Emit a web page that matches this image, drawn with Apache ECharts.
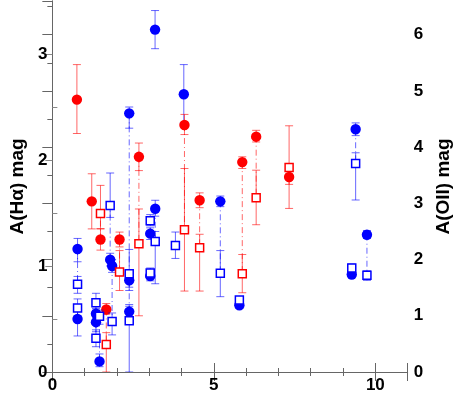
<!DOCTYPE html>
<html lang="en">
<head>
    <meta charset="UTF-8">
    <title>A(Ha) vs A(OII)</title>
    <style>
        html, body { margin: 0; padding: 0; background: #fff; }
    </style>
</head>
<body>
<div id="main" style="width: 461px;height:395px;"></div>

<script src="https://cdn.jsdelivr.net/npm/echarts@6/dist/echarts.min.js"></script>
<script>
    // one entry per object: x, colour (0 red, 1 blue), A(Ha) with errors, A(OII) with errors
    var objX   = [0.76, 0.78, 0.78, 1.22, 1.49, 1.67, 1.35, 1.35, 1.46, 1.79, 1.85, 2.08, 2.38, 2.38, 2.38, 2.68,
                  3.03, 3.03, 3.185, 3.18, 3.81, 4.07, 4.09, 4.56, 5.20, 5.79, 5.88, 6.31, 7.33, 9.27, 9.39, 9.74];
    var objCol = [0, 1, 1, 0, 0, 0, 1, 1, 1, 1, 1, 0, 1, 1, 1, 0,
                  1, 1, 1, 1, 1, 1, 0, 0, 1, 1, 0, 0, 0, 1, 1, 1];
    var haVal  = [2.57, 1.16, 0.50, 1.61, 1.25, 0.59, 0.55, 0.47, 0.10, 1.06, 1.00, 1.25, 2.44, 0.865, 0.57, 2.03,
                  1.305, 0.906, 1.54, 3.23, null, 2.62, 2.33, 1.62, 1.61, 0.63, 1.98, 2.22, 1.84, 0.92, 2.29, 1.295];
    var haLo   = [2.25, 1.04, 0.34, 1.35, 1.15, 0.545, 0.50, 0.38, 0.05, 1.00, 0.94, 1.18, 2.30, 0.80, 0.50, 1.90,
                  1.25, 0.86, 1.47, 3.05, null, 2.35, 2.24, 1.55, 1.56, 0.60, 1.92, 2.17, 1.77, 0.89, 2.23, 1.26];
    var haHi   = [2.90, 1.26, 0.59, 1.87, 1.35, 0.646, 0.60, 0.52, 0.17, 1.12, 1.06, 1.32, 2.50, 0.92, 0.62, 2.16,
                  1.36, 0.95, 1.62, 3.41, null, 2.90, 2.43, 1.69, 1.66, 0.66, 2.03, 2.28, 1.90, 0.95, 2.35, 1.335];
    var oiiVal = [null, 1.56, 1.14, null, 2.82, 0.49, 1.23, 0.60, 0.99, 2.96, 0.90, 1.78, 1.75, 0.91, null, 2.28,
                  2.69, 1.76, 2.32, null, 2.25, null, 2.53, 2.21, 1.755, 1.28, 1.75, 3.10, 3.64, 1.85, 3.71, 1.72];
    var oiiLo  = [null, 1.40, 1.00, null, 2.55, 0.00, 1.10, 0.45, 0.85, 2.75, 0.66, 1.45, 1.45, 0.00, null, 1.00,
                  2.60, 1.70, 1.57, null, 2.02, null, 1.44, 1.44, 1.34, 1.22, 1.41, 2.62, 2.91, 1.78, 3.06, 1.63];
    var oiiHi  = [null, 1.70, 1.30, null, 3.32, 0.70, 1.40, 0.75, 1.10, 3.54, 1.05, 2.16, 2.18, 1.20, null, 2.90,
                  2.80, 1.85, 2.50, null, 2.49, null, 3.62, 2.45, 2.16, 1.34, 2.09, 3.59, 4.38, 1.92, 3.90, 1.80];

    var haMax = 3.5;
    var oiiMax = 6.6;

    var solid = ['#ff0000', '#0000ff'];
    var faint = ['rgba(255,0,0,0.6)', 'rgba(0,0,255,0.6)'];
    var font = '"Liberation Sans", Arial, sans-serif';

    var haData = [], oiiData = [], linkData = [];
    for (var i = 0; i < objX.length; i++) {
        if (haVal[i] !== null) haData.push([objX[i], haVal[i], haLo[i], haHi[i], objCol[i]]);
        if (oiiVal[i] !== null) oiiData.push([objX[i], oiiVal[i], oiiLo[i], oiiHi[i], objCol[i]]);
        if (haVal[i] !== null && oiiVal[i] !== null) {
            linkData.push([objX[i], haVal[i], oiiVal[i] * haMax / oiiMax, objCol[i]]);
        }
    }

    function errorBar(api, c) {
        var x = api.value(0);
        var pl = api.coord([x, api.value(2)]);
        var ph = api.coord([x, api.value(3)]);
        var st = { stroke: faint[c], lineWidth: 1 };
        return [
            { type: 'line', shape: { x1: pl[0], y1: pl[1], x2: ph[0], y2: ph[1] }, style: st },
            { type: 'line', shape: { x1: pl[0] - 4, y1: pl[1], x2: pl[0] + 4, y2: pl[1] }, style: st },
            { type: 'line', shape: { x1: ph[0] - 4, y1: ph[1], x2: ph[0] + 4, y2: ph[1] }, style: st }
        ];
    }

    function renderCircle(params, api) {
        var c = api.value(4);
        var p = api.coord([api.value(0), api.value(1)]);
        var kids = errorBar(api, c);
        kids.push({ type: 'circle', shape: { cx: p[0], cy: p[1], r: 5.2 }, style: { fill: solid[c] } });
        return { type: 'group', children: kids };
    }

    function renderSquare(params, api) {
        var c = api.value(4);
        var p = api.coord([api.value(0), api.value(1)]);
        var kids = errorBar(api, c);
        kids.push({ type: 'rect', shape: { x: p[0] - 4, y: p[1] - 4, width: 8, height: 8 },
            style: { fill: '#fff', stroke: solid[c], lineWidth: 1.5 } });
        return { type: 'group', children: kids };
    }

    function renderLink(params, api) {
        var c = api.value(3);
        var a = api.coord([api.value(0), api.value(1)]);
        var b = api.coord([api.value(0), api.value(2)]);
        return { type: 'line', shape: { x1: a[0], y1: a[1], x2: b[0], y2: b[1] },
            style: { stroke: faint[c], lineWidth: 1, lineDash: [6, 3, 1, 3] } };
    }

    var axisLine = { show: true, lineStyle: { color: '#666', width: 1 } };
    var label = { color: '#000', fontSize: 17, fontWeight: 'bold', fontFamily: font };
    var nameStyle = { color: '#000', fontSize: 19, fontWeight: 'bold', fontFamily: font };

    var chart = echarts.init(document.getElementById('main'));
    chart.setOption({
        animation: false,
        backgroundColor: '#fff',
        grid: { left: 41, right: 46, top: 1, bottom: 23 },
        xAxis: [
            {
                type: 'value', min: 0, max: 11, interval: 5, position: 'bottom',
                axisLine: axisLine,
                axisTick: { inside: true, length: 9, lineStyle: { color: '#666' } },
                minorTick: { show: true, splitNumber: 5, length: 4, lineStyle: { color: '#666' } },
                axisLabel: Object.assign({ margin: 5, showMaxLabel: false }, label),
                splitLine: { show: false }
            },
            {
                type: 'value', min: 0, max: 11, interval: 5, position: 'top',
                axisLine: axisLine,
                axisTick: { inside: true, length: 9, lineStyle: { color: '#666' } },
                minorTick: { show: true, splitNumber: 5, length: 4, lineStyle: { color: '#666' } },
                axisLabel: { show: false },
                splitLine: { show: false }
            }
        ],
        yAxis: [
            {
                type: 'value', min: 0, max: haMax, interval: 1, position: 'left',
                name: 'A(H\u03b1) mag', nameLocation: 'middle', nameRotate: 90, nameGap: 18,
                nameTextStyle: nameStyle,
                axisLine: axisLine,
                axisTick: { inside: false, length: 7, lineStyle: { color: '#888' } },
                minorTick: { show: false },
                axisLabel: Object.assign({ margin: 5, showMaxLabel: false }, label),
                splitLine: { show: false }
            },
            {
                type: 'value', min: 0, max: oiiMax, interval: 1, position: 'right',
                name: 'A(OII) mag', nameLocation: 'middle', nameRotate: 90, nameGap: 23,
                nameTextStyle: nameStyle,
                axisLine: axisLine,
                axisTick: { inside: true, length: 10, lineStyle: { color: '#666' } },
                minorTick: { show: true, splitNumber: 2, length: 5, lineStyle: { color: '#666' } },
                axisLabel: Object.assign({ margin: 6, showMaxLabel: false }, label),
                splitLine: { show: false }
            },
            {
                // second left axis only for the inward minor ticks
                type: 'value', min: 0, max: haMax, interval: 1, position: 'left',
                axisLine: { show: false },
                axisTick: { show: true, inside: true, length: 0 },
                minorTick: { show: true, splitNumber: 2, length: 5, lineStyle: { color: '#888' } },
                axisLabel: { show: false },
                splitLine: { show: false }
            }
        ],
        series: [
            { name: 'link', type: 'custom', xAxisIndex: 0, yAxisIndex: 0, z: 1,
              renderItem: renderLink, data: linkData, clip: true },
            { name: 'A(Ha)', type: 'custom', xAxisIndex: 0, yAxisIndex: 0, z: 3,
              renderItem: renderCircle, data: haData, clip: true },
            { name: 'A(OII)', type: 'custom', xAxisIndex: 0, yAxisIndex: 1, z: 4,
              renderItem: renderSquare, data: oiiData, clip: true }
        ]
    });
</script>
</body>
</html>
